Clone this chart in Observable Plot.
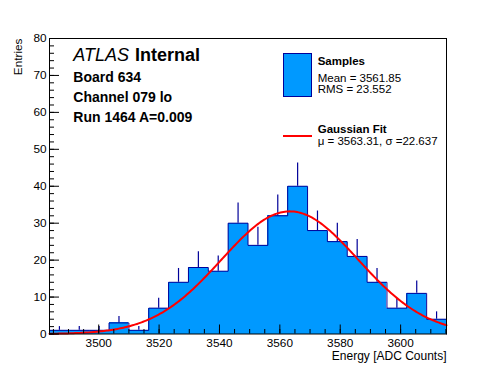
<!DOCTYPE html>
<html><head><meta charset="utf-8">
<script src="https://cdn.jsdelivr.net/npm/d3@7"></script>
<script src="https://cdn.jsdelivr.net/npm/@observablehq/plot@0.6"></script>
<style>body{margin:0;background:#fff}</style>
</head><body><div id="chart"></div>
<script>
// ---- data ----
const binLow = 3483.7;
const binWidth = 6.575;
const binCounts = [1, 1, 1, 3, 1, 7, 14, 18, 17, 30, 24, 32, 40, 28, 25, 21, 14, 7, 11, 4];
const fitMu = 3563.31;
const fitSigma = 22.637;
const fitAmp = 33.2;
const xDomain = [3483.7, 3615.2];
const yDomain = [0, 80];
const xMajor = [3500, 3520, 3540, 3560, 3580, 3600];
const xMinor = d3.range(3485, 3616, 5);
const yMajor = [0, 10, 20, 30, 40, 50, 60, 70, 80];
const yMinor = d3.range(0, 81, 2);
const titleLines = ["Board 634", "Channel 079 lo", "Run 1464 A=0.009"];
const legendSamples = ["Samples", "Mean = 3561.85", "RMS = 23.552"];
const legendFit = ["Gaussian Fit", "\u03bc = 3563.31, \u03c3 =22.637"];

// ---- layout ----
const W = 496, H = 372;
const mL = 49, mR = 50, mT = 38, mB = 38.5;
const fw = W - mL - mR, fh = H - mT - mB;
const FILL = "#0099ff", NAVY = "#000099", RED = "#ff0000";
const FONT = "'Liberation Sans', Arial, Helvetica, sans-serif";

const bins = binCounts.map((n, i) => ({x1: binLow + i * binWidth, x2: binLow + (i + 1) * binWidth, n}));
const outline = [{x: bins[0].x1, y: 0}];
bins.forEach(b => { outline.push({x: b.x1, y: b.n}); outline.push({x: b.x2, y: b.n}); });
outline.push({x: bins[bins.length - 1].x2, y: 0});
const fitCurve = d3.range(xDomain[0], xDomain[1] + 0.01, 0.5).map(x => ({x, y: fitAmp * Math.exp(-((x - fitMu) ** 2) / (2 * fitSigma ** 2))}));

const svg = Plot.plot({
  width: W, height: H,
  marginLeft: mL, marginRight: mR, marginTop: mT, marginBottom: mB,
  style: {fontFamily: FONT, fontSize: "11.8px", background: "white", color: "black"},
  x: {domain: xDomain, axis: null},
  y: {domain: yDomain, axis: null},
  marks: [
    Plot.rectY(bins, {x1: "x1", x2: "x2", y: "n", fill: FILL, shapeRendering: "crispEdges"}),
    Plot.line(outline, {x: "x", y: "y", stroke: NAVY, strokeWidth: 1}),
    Plot.ruleX(bins, {x: d => (d.x1 + d.x2) / 2, y1: "n", y2: d => d.n + Math.sqrt(d.n), stroke: NAVY, strokeWidth: 1.2}),
    Plot.line(fitCurve, {x: "x", y: "y", stroke: RED, strokeWidth: 2}),
    Plot.gridX(xMinor, {stroke: "black", strokeOpacity: 1, insetTop: fh - 4.5}),
    Plot.gridX(xMajor, {stroke: "black", strokeOpacity: 1, insetTop: fh - 9}),
    Plot.gridY(yMinor, {stroke: "black", strokeOpacity: 1, insetRight: fw - 5}),
    Plot.gridY(yMajor, {stroke: "black", strokeOpacity: 1, insetRight: fw - 10}),
    Plot.axisX(xMajor, {tickSize: 0, tickPadding: 4.5, label: null, fill: "black", tickFormat: d => String(d)}),
    Plot.axisY(yMajor, {tickSize: 0, tickPadding: 3, label: null, fill: "black", tickFormat: d => String(d)}),
    Plot.text(["Entries"], {frameAnchor: "top-left", rotate: -90, textAnchor: "end", lineAnchor: "middle", dx: -31, dy: 0, fill: "black"}),
    Plot.text(["Energy [ADC Counts]"], {frameAnchor: "bottom-right", textAnchor: "end", lineAnchor: "bottom", dy: 26, fill: "black", fontSize: 12}),
    Plot.frame({stroke: "black"})
  ]
});

document.getElementById("chart").append(svg);

const s = d3.select(svg);
// title block
const t = s.append("g").attr("font-family", FONT).attr("fill", "black").attr("text-anchor", "start");
const atlas = t.append("text").attr("x", 73.3).attr("y", 61).attr("font-size", 18).attr("font-style", "italic").text("ATLAS");
const atlasLen = atlas.node().getComputedTextLength();
t.append("text").attr("x", 73.3 + Math.max(atlasLen + 6, 55)).attr("y", 61).attr("font-size", 18).attr("font-weight", "bold").text("Internal");
titleLines.forEach((line, i) => {
  t.append("text").attr("x", 73.3).attr("y", 81.7 + i * 20.1).attr("font-size", 14).attr("font-weight", "bold").text(line);
});
// legend
const g = s.append("g").attr("font-family", FONT).attr("fill", "black").attr("font-size", 11.5).attr("text-anchor", "start");
g.append("rect").attr("x", 283.5).attr("y", 53.5).attr("width", 28).attr("height", 43).attr("fill", FILL).attr("stroke", NAVY);
legendSamples.forEach((line, i) => {
  g.append("text").attr("x", 317.7).attr("y", [65, 81.7, 93.3][i]).attr("font-weight", i === 0 ? "bold" : null).text(line);
});
g.append("line").attr("x1", 283).attr("x2", 312).attr("y1", 136).attr("y2", 136).attr("stroke", RED).attr("stroke-width", 2);
legendFit.forEach((line, i) => {
  g.append("text").attr("x", 317.7).attr("y", [132.7, 145][i]).attr("font-weight", i === 0 ? "bold" : null).text(line);
});
</script>
</body></html>
